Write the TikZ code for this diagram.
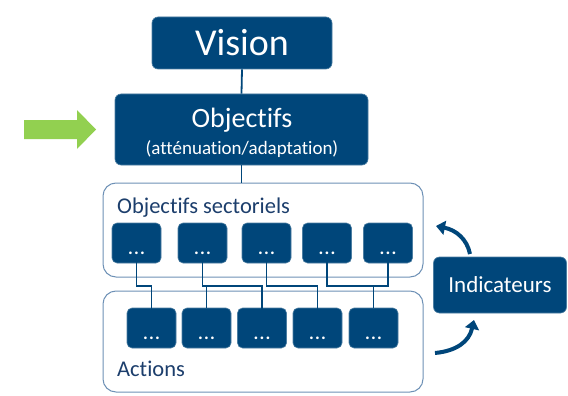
\documentclass[tikz,border=0pt]{standalone}
\usepackage{fontspec}
\setmainfont{Carlito}[Ligatures=NoCommon]
\usetikzlibrary{arrows.meta}
\definecolor{dblue}{RGB}{0,70,122}
\definecolor{cborder}{RGB}{110,145,182}
\definecolor{tblue}{RGB}{28,62,108}
\definecolor{agreen}{RGB}{146,208,80}
\tikzset{
  darkbox/.style={fill=dblue, draw=dblue!70!white, line width=0.6pt, rounded corners=6pt, text=white, inner sep=0pt},
  smallbox/.style={darkbox, minimum width=49pt, minimum height=40pt, rounded corners=5pt},
  container/.style={draw=cborder, line width=1pt, rounded corners=13pt, fill=white, minimum width=320pt, inner sep=0pt},
  link/.style={draw=dblue, line width=1.8pt},
  cyc/.style={draw=dblue, line width=4pt, -{Triangle[length=9pt,width=14pt]}},
  lbl/.style={text=tblue, font=\fontsize{22.5}{24}\selectfont, anchor=base west, inner sep=0pt},
  dots/.style={text=white, font=\bfseries\fontsize{18}{18}\selectfont, anchor=base, inner sep=0pt}
}
\newcommand{\mydots}{.\kern1.2pt.\kern1.2pt.}
\begin{document}
\begin{tikzpicture}[x=1pt,y=-1pt]
\useasboundingbox (0,0) rectangle (568,396);
% containers
\node[container, minimum height=94pt] (sect) at (263,230) {};
\node[container, minimum height=101pt] (act) at (263,341.5) {};
\node[lbl] (sectl) at (117,213) {Objectifs sectoriels};
\node[lbl] (actl) at (117,376) {Actions};
% top boxes
\foreach \i/\x in {1/136.5,2/202.5,3/266.5,4/327,5/388}{
  \node[smallbox] (t\i) at (\x,243) {};
  \node[dots] at (\x,254) {\mydots};
}
\foreach \i/\x in {1/151.5,2/206.5,3/262,4/317.5,5/373.5}{
  \node[smallbox] (b\i) at (\x,328) {};
  \node[dots] at (\x,339) {\mydots};
}
% main boxes
\node[darkbox, minimum width=180pt, minimum height=52pt, font=\fontsize{38}{40}\selectfont] (vision) at (242,43) {Vision};
\node[darkbox, minimum width=253pt, minimum height=71pt] (obj) at (241.5,129.5) {};
\node[text=white, font=\fontsize{28}{30}\selectfont, anchor=base, inner sep=0pt] (objt) at (242,128) {Objectifs};
\node[text=white, font=\fontsize{19}{20}\selectfont, anchor=base, inner sep=0pt] (objs) at (242,154) {(atténuation/adaptation)};
\node[darkbox, minimum width=133pt, minimum height=56pt, font=\fontsize{23}{24}\selectfont] (ind) at (500,285) {Indicateurs};
% connectors
\draw[link] (vision.south) -- (obj.north);
\draw[link] (obj.south) -- (obj.south |- sect.north);
\coordinate (lev) at (0,286);
\draw[link, line cap=rect] (t1.south) -- (t1.south |- lev) -| (b1.north);
\draw[link, line cap=rect] (t2.south) -- (t2.south |- lev) -| (b3.north);
\draw[link] (b2.north |- lev) -- (b2.north);
\draw[link, line cap=rect] (t3.south) -- (t3.south |- lev) -| (b4.north);
\draw[link, line cap=rect] (t4.south) -- (t4.south |- lev) -| (t5.south);
\draw[link] (b5.north |- lev) -- (b5.north);
% cycle arrows
\coordinate (u0) at (470,254);
\coordinate (u1) at (436,226);
\coordinate (l0) at (435,353);
\coordinate (l1) at (474,320);
\draw[cyc] (u0) .. controls (467,239) and (456,230) .. (u1);
\draw[cyc] (l0) .. controls (456,351) and (469,342) .. (l1);
% green arrow
\fill[agreen] (24,120) -- (77,120) -- (77,110) -- (96,129.5) -- (77,149) -- (77,139) -- (24,139) -- cycle;
\end{tikzpicture}
\end{document}
